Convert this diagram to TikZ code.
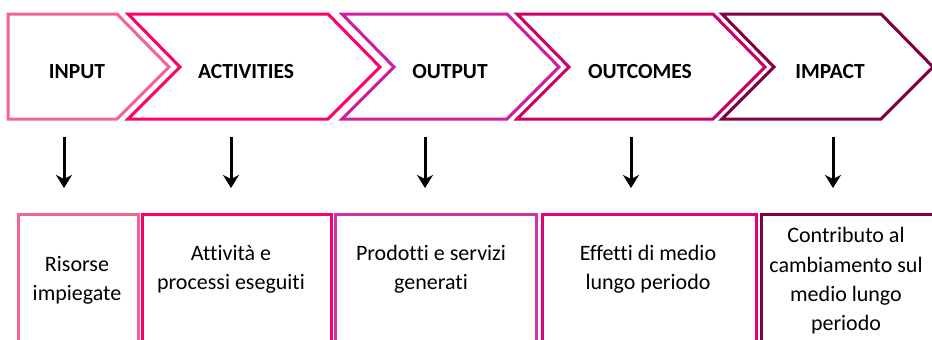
\documentclass[tikz,border=0pt]{standalone}
\usepackage{fontspec}
\setmainfont{Carlito}[Ligatures=NoCommon]
\usetikzlibrary{arrows.meta}

\definecolor{cinput}{HTML}{F06496}
\definecolor{cactiv}{HTML}{FF0066}
\definecolor{coutput}{HTML}{CC1E9E}
\definecolor{coutcome}{HTML}{CC0066}
\definecolor{cimpact}{HTML}{800040}
\definecolor{bpurple}{HTML}{D030A8}
\definecolor{bpink}{HTML}{E6007E}

\begin{document}
\begin{tikzpicture}[x=1pt, y=-1pt,
    chev/.style={line width=3pt, line join=miter},
    title/.style={font=\fontsize{21.5}{24}\selectfont\bfseries},
    descr/.style={font=\fontsize{22}{29.3}\selectfont, align=center, inner sep=0pt},
    boxe/.style={draw=#1, line width=2.6pt, anchor=north west, inner sep=0pt},
    arr/.style={-{Stealth[length=13pt, width=16pt, inset=4pt]}, line width=3pt, black}]
      \useasboundingbox (0,0) rectangle (932,340);
      \clip (0,0) rectangle (932,340);

      \draw[chev, cinput] (8,14) -- (117,14) -- (169,67) -- (117,119) -- (8,119) -- cycle;
      \node[title] (t1) at (77,72) {INPUT};

      \draw[chev, cactiv] (128,14) -- (328,14) -- (380,67) -- (328,119) -- (128,119) -- (180,67) -- cycle;
      \node[title] (t2) at (246,72) {ACTIVITIES};

      \draw[chev, coutput] (342,14) -- (507,14) -- (559,67) -- (507,119) -- (342,119) -- (394,67) -- cycle;
      \node[title] (t3) at (450,72) {OUTPUT};

      \draw[chev, coutcome] (517,14) -- (713,14) -- (765,67) -- (713,119) -- (517,119) -- (569,67) -- cycle;
      \node[title] (t4) at (640,72) {OUTCOMES};

      \draw[chev, cimpact] (722,14) -- (881,14) -- (933,67) -- (881,119) -- (722,119) -- (774,67) -- cycle;
      \node[title] (t5) at (830,72) {IMPACT};

      \foreach \i/\x in {1/64, 2/231, 3/425, 4/631, 5/833} {
        \coordinate (s\i) at (\x,137);
        \coordinate (e\i) at (\x,188);
        \draw[arr] (s\i) -- (e\i);
      }

      \node[boxe=cinput, minimum width=120pt, minimum height=150pt] (b1) at (17,213) {};
      \node[boxe=cactiv, minimum width=189pt, minimum height=150pt] (b2) at (141,213) {};
      \node[boxe=bpurple, minimum width=201pt, minimum height=150pt] (b3) at (334,213) {};
      \node[boxe=bpink, minimum width=214pt, minimum height=150pt] (b4) at (541,213) {};
      \node[boxe=cimpact, minimum width=190pt, minimum height=150pt] (b5) at (760,213) {};

      \node[descr] (d1) at (77,280) {Risorse\\impiegate};
      \node[descr] (d2) at (231,269) {Attività e\\processi eseguiti};
      \node[descr] (d3) at (431,269) {Prodotti e servizi\\generati};
      \node[descr] (d4) at (648,269) {Effetti di medio\\lungo periodo};
      \node[descr] (d5) at (846,281) {Contributo al\\cambiamento sul\\medio lungo\\periodo};
    \end{tikzpicture}
\end{document}
